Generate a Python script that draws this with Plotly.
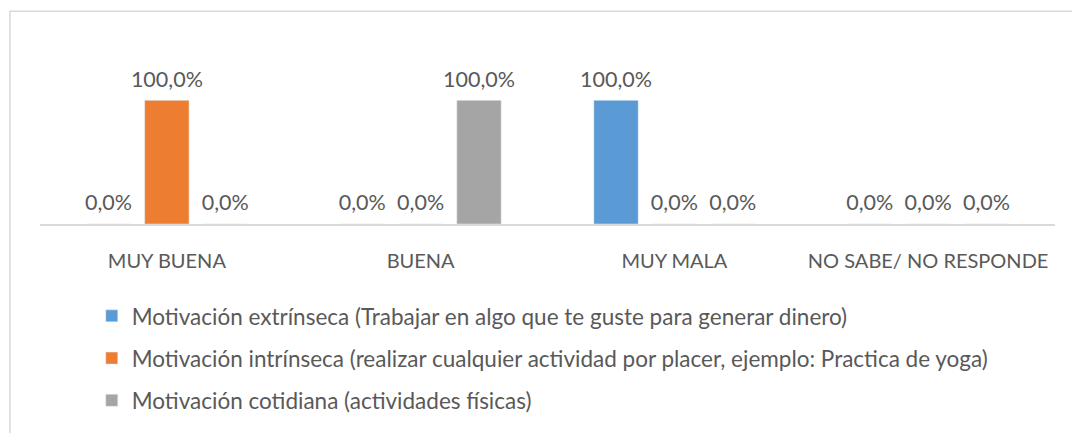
import plotly.graph_objects as go

categorias = ["MUY BUENA", "BUENA", "MUY MALA", "NO SABE/ NO RESPONDE"]

extrinseca = [0, 0, 100, 0]
intrinseca = [100, 0, 0, 0]
cotidiana = [0, 100, 0, 0]

nombres = [
    "Motivación extrínseca (Trabajar en algo que te guste para generar dinero)",
    "Motivación intrínseca (realizar cualquier actividad por placer, ejemplo: Practica de yoga)",
    "Motivación cotidiana (actividades físicas)",
]
colores = ["#5B9BD5", "#ED7D31", "#A5A5A5"]

texto = "#595959"
fuente = "Lato"

fig = go.Figure()
for i, (serie, nombre, color) in enumerate(zip([extrinseca, intrinseca, cotidiana], nombres, colores)):
    fig.add_trace(go.Bar(
        x=categorias, y=serie, name=nombre, marker_color=color,
        legendgroup=str(i), offsetgroup=str(i),
    ))
    # etiquetas de datos
    fig.add_trace(go.Scatter(
        x=categorias, y=serie, mode="markers+text",
        marker=dict(size=12, color="rgba(0,0,0,0)"),
        texttemplate="%{y:.1f}%", textposition="top center",
        textfont=dict(size=21.5, color=texto, family=fuente),
        offsetgroup=str(i), legendgroup=str(i), showlegend=False,
        cliponaxis=False, hoverinfo="skip",
    ))

fig.update_layout(
    width=1072, height=433,
    margin=dict(l=40, r=17, t=88, b=205),
    plot_bgcolor="white", paper_bgcolor="white",
    separators=",.",
    barmode="group", bargap=0.31, bargroupgap=0.24,
    scattermode="group", scattergap=0.31,
    font=dict(family=fuente, color=texto, size=21),
    showlegend=True,
    legend=dict(
        orientation="v", x=0.051, xanchor="left", y=-0.52, yanchor="top",
        traceorder="grouped", tracegroupgap=10,
        font=dict(size=22.5, color=texto, family=fuente),
    ),
    xaxis=dict(
        showline=True, linecolor="#D9D9D9", linewidth=1.5,
        ticks="", ticklabelstandoff=18, showgrid=False,
        tickfont=dict(size=20, color=texto, family=fuente),
    ),
    yaxis=dict(range=[0, 110], visible=False, showgrid=False, zeroline=False),
    shapes=[dict(
        type="rect", xref="paper", yref="paper",
        x0=-0.0296, x1=1.2, y0=-3, y1=1.564,
        line=dict(color="#D9D9D9", width=1.5), fillcolor="rgba(0,0,0,0)",
        layer="below",
    )],
)

fig.write_html("out.html", config={"displayModeBar": False},
               post_script="document.body.style.margin='0';")
